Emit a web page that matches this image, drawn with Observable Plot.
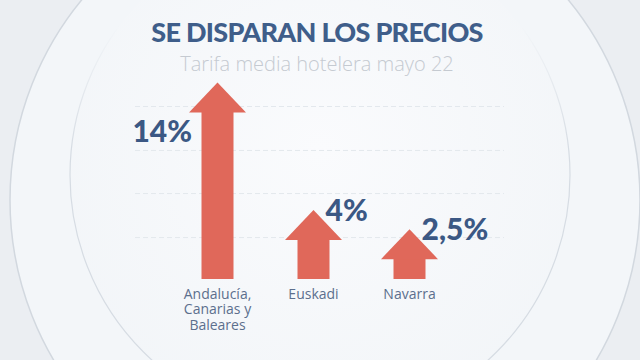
<!DOCTYPE html>
<html><head><meta charset="utf-8">
<script src="https://cdn.jsdelivr.net/npm/d3@7"></script>
<script src="https://cdn.jsdelivr.net/npm/@observablehq/plot@0.6"></script>
<style>
html,body{margin:0;padding:0;}
body{width:640px;height:360px;overflow:hidden;font-family:Lato,sans-serif;}
#wrap{position:relative;width:640px;height:360px;background:#edf0f4;}
#bg{position:absolute;left:0;top:0;}
#title{position:absolute;left:0;top:17px;width:634px;text-align:center;font-size:27px;line-height:30px;font-weight:900;letter-spacing:-0.7px;color:#3f5e8a;}
#subtitle{position:absolute;left:0;top:53px;width:634px;text-align:center;font-family:"Open Sans",sans-serif;font-size:20px;line-height:22px;font-weight:300;color:#c5cad1;}
#chart{position:absolute;left:0;top:0;}
</style></head><body>
<div id="wrap">
<svg id="bg" width="640" height="360">
  <defs>
    <radialGradient id="g1" cx="0.5" cy="0.45" r="0.6">
      <stop offset="0" stop-color="#fafbfd"/>
      <stop offset="1" stop-color="#f2f5f8"/>
    </radialGradient>
    <linearGradient id="s2" x1="0" y1="0" x2="0" y2="1">
      <stop offset="0.2" stop-color="#d6dce3" stop-opacity="0"/>
      <stop offset="0.45" stop-color="#d6dce3" stop-opacity="1"/>
    </linearGradient>
  </defs>
  <rect width="640" height="360" fill="#ebeef2"/>
  <circle cx="325" cy="200" r="315" fill="#f3f6f9" stroke="#d2d8df" stroke-width="1.5"/>
  <circle cx="320" cy="175" r="250" fill="url(#g1)" stroke="url(#s2)" stroke-width="1.2"/>
</svg>
<div id="title">SE DISPARAN LOS PRECIOS</div>
<div id="subtitle">Tarifa media hotelera mayo 22</div>
<div id="chart"></div>
</div>
<script>
const regions = ["Andalucía,\nCanarias y\nBaleares", "Euskadi", "Navarra"];
const increases = [14, 4, 2.5];
const valueLabels = ["14%", "4%", "2,5%"];
const gridValues = [1.84, 5.29, 8.67, 12.12];
const yBase = -1.45;

const data = regions.map((r, i) => ({region: r, value: increases[i], label: valueLabels[i], i}));
const arrowColor = "#e0685a";
const arrowHead = {
  draw(ctx) {
    ctx.moveTo(0, 0);
    ctx.lineTo(28.5, 30);
    ctx.lineTo(-28.5, 30);
    ctx.closePath();
  }
};

const chart = Plot.plot({
  width: 640,
  height: 360,
  marginTop: 82,
  marginBottom: 81,
  marginLeft: 216.5,
  marginRight: 230.5,
  style: {background: "transparent", fontFamily: "Lato, sans-serif"},
  x: {type: "point", domain: regions, padding: 0, axis: null},
  y: {domain: [yBase, 14], axis: null},
  marks: [
    Plot.ruleY(gridValues, {y: d => d, stroke: "#e3e8ed", strokeDasharray: "5 3", insetLeft: -81.5, insetRight: -94.5}),
    Plot.ruleX(data, {x: "region", y1: "value", y2: () => yBase, stroke: arrowColor, strokeWidth: 32, insetTop: 29}),
    Plot.dot(data, {x: "region", y: "value", symbol: arrowHead, r: 5, fill: arrowColor, stroke: "none"}),
    Plot.text(data, {x: "region", y: () => yBase, text: "region", lineAnchor: "top", dy: 8, fontSize: 14, lineHeight: 1.12, fontFamily: "Open Sans, sans-serif", fill: "#5c6f8d"}),
    Plot.text(data.filter(d => d.i === 0), {x: "region", y: "value", text: "label", textAnchor: "end", dx: -25.5, dy: 50, fontSize: 30, fontWeight: 900, fill: "#3b5884"}),
    Plot.text(data.filter(d => d.i > 0), {x: "region", y: "value", text: "label", textAnchor: "start", dx: 12, dy: 1, fontSize: 30, fontWeight: 900, fill: "#3b5884"})
  ]
});
document.getElementById("chart").appendChild(chart);
</script>
</body></html>
